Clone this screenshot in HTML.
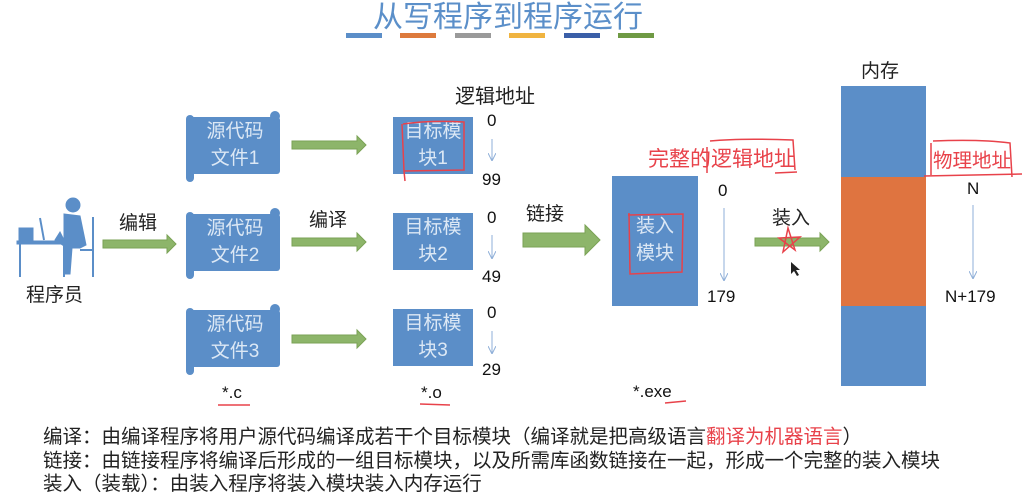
<!DOCTYPE html><html><head><meta charset="utf-8"><style>
body{margin:0;width:1024px;height:489px;background:#fff;position:relative;overflow:hidden;font-family:"Liberation Sans","Noto Sans CJK SC",sans-serif;}
.a{position:absolute;white-space:nowrap;}
.bx{position:absolute;background:#5b8ec8;color:#dce8f5;font-size:19px;text-align:center;line-height:27px;}
.t{font-size:19px;color:#222;}
.n{font-size:17px;color:#111;}
.r{color:#e8424a;}
</style></head><body>
<div class="a" style="left:0;top:-8px;width:1016px;text-align:center;font-size:30px;color:#5b8fc9;">从写程序到程序运行</div>
<div class="a" style="left:346px;top:33px;width:36px;height:5px;background:#5b8ec8"></div>
<div class="a" style="left:400px;top:33px;width:36px;height:5px;background:#dd7a3c"></div>
<div class="a" style="left:455px;top:33px;width:36px;height:5px;background:#9a9a9a"></div>
<div class="a" style="left:509px;top:33px;width:36px;height:5px;background:#f0b440"></div>
<div class="a" style="left:564px;top:33px;width:36px;height:5px;background:#3b5fa8"></div>
<div class="a" style="left:618px;top:33px;width:36px;height:5px;background:#6f9a44"></div>

<svg class="a" style="left:0;top:0" width="1024" height="489">
<defs><marker id="m" markerWidth="8" markerHeight="8" refX="7" refY="4" orient="auto"><path d="M0,0 L8,4 L0,8" fill="none" stroke="#8fafd8" stroke-width="1"/></marker></defs>
<g fill="#8db56a" stroke="#7aa255">
<path d="M103,240h64v-5l9,9l-9,9v-5h-64z"/>
<path d="M292,141h65v-5l9,9l-9,9v-5h-65z"/>
<path d="M292,238h65v-5l9,9l-9,9v-5h-65z"/>
<path d="M292,335h65v-5l9,9l-9,9v-5h-65z"/>
<path d="M523,233h62v-8l15,15l-15,15v-8h-62z"/>
<path d="M755,238h65v-5l9,9l-9,9v-5h-65z"/>
</g>
<g stroke="#8fafd8" stroke-width="1" marker-end="url(#m)">
<line x1="492" y1="139" x2="492" y2="160"/><line x1="492" y1="235" x2="492" y2="258"/><line x1="492" y1="331" x2="492" y2="353"/>
<line x1="724" y1="208" x2="724" y2="280"/><line x1="973" y1="205" x2="973" y2="278"/>
</g>
<g fill="#5b8ec8">
<rect x="190" y="117" width="90" height="57" rx="3"/><rect x="186" y="115" width="8" height="67" rx="4"/><circle cx="275" cy="116" r="5"/>
<rect x="190" y="214" width="90" height="57" rx="3"/><rect x="186" y="212" width="8" height="67" rx="4"/><circle cx="275" cy="213" r="5"/>
<rect x="190" y="310" width="90" height="57" rx="3"/><rect x="186" y="308" width="8" height="67" rx="4"/><circle cx="275" cy="309" r="5"/>
</g>
<g fill="#5b8ec8" stroke="#5b8ec8">
<circle cx="73" cy="205" r="7"/>
<path d="M64,214 L80,216 L86,245 L80,248 L72,248 L70,274 L64,274 L64,246 L55,240 L60,232 L64,240z"/>
<rect x="17" y="241" width="50" height="3"/><line x1="20" y1="244" x2="20" y2="277" stroke-width="2"/><line x1="64" y1="244" x2="64" y2="277" stroke-width="2"/>
<line x1="93" y1="217" x2="93" y2="277" stroke-width="2"/><line x1="80" y1="250" x2="93" y2="250" stroke-width="2"/>
<rect x="19" y="228" width="14" height="12"/><line x1="40" y1="218" x2="44" y2="240" stroke-width="2"/>
</g>
</svg>

<div class="bx" style="left:190px;top:118px;width:90px;background:none">源代码<br>文件1</div>
<div class="bx" style="left:190px;top:215px;width:90px;background:none">源代码<br>文件2</div>
<div class="bx" style="left:190px;top:311px;width:90px;background:none">源代码<br>文件3</div>
<div class="bx" style="left:393px;top:117px;width:80px;height:57px;padding-top:1px;box-sizing:border-box">目标模<br>块1</div>
<div class="bx" style="left:393px;top:213px;width:80px;height:57px;padding-top:1px;box-sizing:border-box">目标模<br>块2</div>
<div class="bx" style="left:393px;top:309px;width:80px;height:57px;padding-top:1px;box-sizing:border-box">目标模<br>块3</div>
<div class="bx" style="left:612px;top:176px;width:86px;height:130px;padding-top:37px;box-sizing:border-box">装入<br>模块</div>
<div class="a" style="left:841px;top:86px;width:85px;height:91px;background:#5b8ec8"></div>
<div class="a" style="left:841px;top:177px;width:85px;height:129px;background:#df7440"></div>
<div class="a" style="left:841px;top:306px;width:85px;height:80px;background:#5b8ec8"></div>

<div class="a t" style="left:119px;top:208px">编辑</div>
<div class="a t" style="left:309px;top:205px">编译</div>
<div class="a t" style="left:526px;top:199px">链接</div>
<div class="a t" style="left:772px;top:203px">装入</div>
<div class="a t" style="left:26px;top:280px">程序员</div>
<div class="a t" style="left:455px;top:80px;font-size:20px">逻辑地址</div>
<div class="a t" style="left:861px;top:56px">内存</div>
<div class="a t r" style="left:648px;top:143px;font-size:21px">完整的逻辑地址</div>
<div class="a t r" style="left:933px;top:144px;font-size:19.5px">物理地址</div>
<div class="a n" style="left:487px;top:111px">0</div>
<div class="a n" style="left:482px;top:170px">99</div>
<div class="a n" style="left:487px;top:208px">0</div>
<div class="a n" style="left:482px;top:267px">49</div>
<div class="a n" style="left:487px;top:303px">0</div>
<div class="a n" style="left:482px;top:360px">29</div>
<div class="a n" style="left:718px;top:181px">0</div>
<div class="a n" style="left:707px;top:287px">179</div>
<div class="a n" style="left:967px;top:179px">N</div>
<div class="a n" style="left:945px;top:287px">N+179</div>
<div class="a n" style="left:222px;top:383px">*.c</div>
<div class="a n" style="left:421px;top:383px">*.o</div>
<div class="a n" style="left:633px;top:382px">*.exe</div>
<div class="a t" style="left:43px;top:420px;font-size:19.5px">编译：由编译程序将用户源代码编译成若干个目标模块（编译就是把高级语言<span class="r">翻译为机器语言</span>）</div>
<div class="a t" style="left:43px;top:444px;font-size:19.5px">链接：由链接程序将编译后形成的一组目标模块，以及所需库函数链接在一起，形成一个完整的装入模块</div>
<div class="a t" style="left:43px;top:467px;font-size:19.5px">装入（装载）：由装入程序将装入模块装入内存运行</div>

<svg class="a" style="left:0;top:0" width="1024" height="489">
<g fill="none" stroke="#e8424a" stroke-width="1.5">
<path d="M403,124 Q430,120 464,122 L464,170 L404,171 L402,124 M404,171 L405,181"/>
<path d="M628,215 L683,214 L682,272 L630,274 L629,213"/>
<path d="M707,147 L707,173 M710,141 Q740,138 793,140 L795,170 M775,173 L797,172"/>
<path d="M931,143 L931,175 M933,141 Q980,139 1010,143 L1012,177 M924,176 L1022,174"/>
<path d="M788,228 L795,250 L779,238 L800,237 L783,252z"/>
<path d="M218,405 L250,405 M420,404 L450,405 M665,403 L686,401"/>
</g>
<path d="M791,262 l0,12 l3,-3 l3,5 l2,-1 l-3,-5 l4,0z" fill="#222"/>
</svg>
</body></html>
